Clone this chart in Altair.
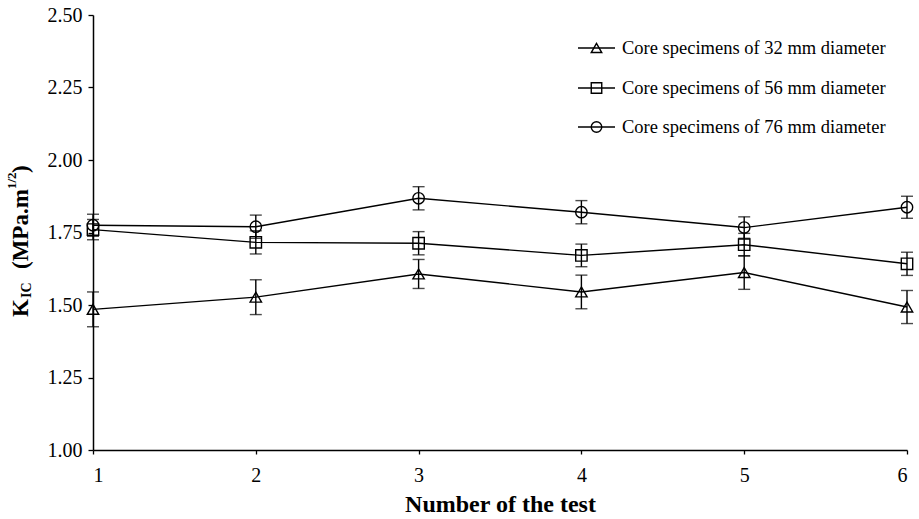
import altair as alt
import pandas as pd

# Test numbers on the x axis
tests = [1, 2, 3, 4, 5, 6]

series_names = [
    "Core specimens of 32 mm diameter",
    "Core specimens of 56 mm diameter",
    "Core specimens of 76 mm diameter",
]
series_shapes = ["triangle-up", "square", "circle"]

# Fracture toughness K_IC (MPa.m^1/2) and error half-widths
kic_32 = [1.485, 1.527, 1.607, 1.545, 1.612, 1.493]
err_32 = [0.060, 0.060, 0.050, 0.058, 0.058, 0.057]
kic_56 = [1.760, 1.716, 1.713, 1.671, 1.708, 1.642]
err_56 = [0.035, 0.040, 0.040, 0.039, 0.039, 0.040]
kic_76 = [1.775, 1.770, 1.868, 1.820, 1.767, 1.837]
err_76 = [0.038, 0.040, 0.040, 0.040, 0.037, 0.038]

y_ticks = [1.00, 1.25, 1.50, 1.75, 2.00, 2.25, 2.50]

rows = []
for name, vals, errs in zip(series_names, [kic_32, kic_56, kic_76], [err_32, err_56, err_76]):
    for t, v, e in zip(tests, vals, errs):
        rows.append({"test": t, "kic": v, "lo": v - e, "hi": v + e, "series": name})
df = pd.DataFrame(rows)

FONT = "Liberation Serif"
W, H = 814, 435
LW = 1.4

x_enc = alt.X(
    "test:Q",
    scale=alt.Scale(domain=[1, 6], nice=False, zero=False),
    axis=alt.Axis(
        values=tests, format="d", title="Number of the test",
        labelFont=FONT, labelFontSize=20, labelPadding=11, tickSize=4,
        titleFont=FONT, titleFontSize=24, titleFontWeight="bold", titleColor="black",
        titlePadding=7,
    ),
)
y_enc = alt.Y(
    "kic:Q",
    scale=alt.Scale(domain=[1.0, 2.5], nice=False, zero=False),
    axis=alt.Axis(values=y_ticks, format=".2f", title=None,
                  labelFont=FONT, labelFontSize=20, labelPadding=6, tickSize=5),
)

base = alt.Chart(df)

lines = base.mark_line(color="black", strokeWidth=LW).encode(
    x=x_enc, y=y_enc, detail="series:N"
)
bars = base.mark_rule(color="black", strokeWidth=LW).encode(
    x="test:Q", y="lo:Q", y2="hi:Q"
)
cap_lo = base.mark_tick(orient="horizontal", color="black", size=12, thickness=LW).encode(
    x="test:Q", y="lo:Q"
)
cap_hi = base.mark_tick(orient="horizontal", color="black", size=12, thickness=LW).encode(
    x="test:Q", y="hi:Q"
)
points = base.mark_point(filled=False, color="black", strokeWidth=LW, size=130, opacity=1).encode(
    x="test:Q",
    y="kic:Q",
    shape=alt.Shape(
        "series:N",
        scale=alt.Scale(domain=series_names, range=series_shapes),
        legend=None,
    ),
)

layers = [lines, bars, cap_lo, cap_hi, points]

one = pd.DataFrame({"k": [0]})

# Hand-built legend: short line with marker, then the label
legend_rows_y = [33, 73, 112]
for name, shp, ly in zip(series_names, series_shapes, legend_rows_y):
    layers.append(
        alt.Chart(one).mark_rule(color="black", strokeWidth=LW).encode(
            x=alt.value(485), x2=alt.value(522), y=alt.value(ly)
        )
    )
    layers.append(
        alt.Chart(one).mark_point(shape=shp, filled=False, color="black", strokeWidth=LW, size=110, opacity=1).encode(
            x=alt.value(503.5), y=alt.value(ly)
        )
    )
    layers.append(
        alt.Chart(one).mark_text(text=name, font=FONT, fontSize=18.5, color="black", align="left", baseline="middle").encode(
            x=alt.value(529), y=alt.value(ly)
        )
    )

# Y axis title with subscript and superscript pieces, rotated
title_parts = [
    ("K", 23, 302.0, -65),
    ("IC", 14, 283.0, -62),
    ("(MPa.m", 23, 254.0, -65),
    ("1/2", 13, 174.0, -77),
    (")", 23, 158.0, -65),
]
for txt, fs, ty, tx in title_parts:
    layers.append(
        alt.Chart(one).mark_text(
            text=txt, font=FONT, fontSize=fs, fontWeight="bold", color="black",
            angle=270, align="left", baseline="alphabetic",
        ).encode(x=alt.value(tx), y=alt.value(ty))
    )

chart = (
    alt.layer(*layers)
    .properties(
        width=W, height=H,
        autosize=alt.AutoSizeParams(type="none"),
        padding={"left": 93, "top": 15, "right": 12, "bottom": 69},
        background="white",
    )
    .configure_view(stroke=None)
    .configure_axis(
        grid=False,
        labelColor="black",
        domainColor="black", domainWidth=1.5,
        tickColor="black", tickWidth=1.3,
    )
)

chart.save("out.html", embed_options={"renderer": "svg", "actions": False})
